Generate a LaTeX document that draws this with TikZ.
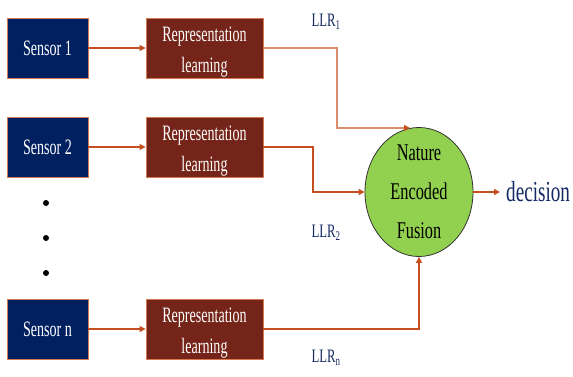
\documentclass[tikz,border=0pt]{standalone}
\usepackage{fontspec}
\setmainfont{Liberation Serif}
\usetikzlibrary{arrows.meta,shapes.geometric,calc}

\definecolor{sensorblue}{RGB}{0,32,96}
\definecolor{repred}{RGB}{116,36,24}
\definecolor{edgeorange}{RGB}{214,120,80}
\definecolor{flowline}{RGB}{197,80,30}
\definecolor{flowlight}{RGB}{222,140,110}
\definecolor{fusiongreen}{RGB}{146,208,80}
\definecolor{labelblue}{RGB}{20,40,100}

% horizontally condensed text
\newcommand{\cond}[2][0.64]{\scalebox{#1}[1]{#2}}

\tikzset{
  sensorbox/.style={draw=edgeorange, line width=0.8pt, fill=sensorblue,
    minimum width=81pt, minimum height=60pt, inner sep=0pt, text=white,
    font=\fontsize{22}{26}\selectfont},
  repbox/.style={draw=edgeorange, line width=0.8pt, fill=repred,
    minimum width=117pt, minimum height=60pt, inner sep=0pt},
  reptext/.style={text=white, inner sep=0pt,
    font=\fontsize{22}{33}\selectfont, align=center},
  flow/.style={draw=flowline, line width=1.3pt,
    -{Triangle[length=6pt,width=6pt]}},
  flowpale/.style={draw=flowlight, line width=1.3pt,
    -{Triangle[length=6pt,width=6pt,color=flowline]}},
  fusion/.style={ellipse, draw=black!80, line width=0.8pt, fill=fusiongreen,
    minimum width=108pt, minimum height=129pt, inner sep=0pt},
  llr/.style={text=labelblue, inner sep=0pt, font=\fontsize{19}{22}\selectfont},
  dot/.style={circle, fill=black, minimum size=6pt, inner sep=0pt}
}

\begin{document}
\begin{tikzpicture}[x=1pt,y=-1pt]
  \useasboundingbox (0,0) rectangle (573,377);

  % sensors
  \node[sensorbox] (s1) at (47.5,48) {\cond{Sensor 1}};
  \node[sensorbox] (s2) at (47.5,147) {\cond{Sensor 2}};
  \node[sensorbox] (sn) at (47.5,329) {\cond{Sensor n}};

  % ellipsis between sensors
  \node[dot] (d1) at (46,203) {};
  \node[dot] (d2) at (46,238) {};
  \node[dot] (d3) at (46,273) {};

  % representation learning blocks
  \node[repbox] (r1) at (204.5,48) {};
  \node[repbox] (r2) at (204.5,147) {};
  \node[repbox] (rn) at (204.5,329) {};
  \foreach \r in {r1,r2,rn}
    \node[reptext] at ($(\r)+(0,4)$)
      {\cond{Representation}\\[-2pt]\cond{learning}};

  % fusion node
  \node[fusion] (c) at (419,192) {};
  \node[inner sep=0pt, align=center, font=\fontsize{24}{39}\selectfont]
    at (c) {\cond[0.68]{Nature}\\\cond[0.68]{Encoded}\\\cond[0.68]{Fusion}};

  % decision output
  \node[anchor=west, text=labelblue, inner sep=0pt,
    font=\fontsize{29}{32}\selectfont] (dec) at (506,192) {\cond[0.66]{decision}};

  % sensor to representation
  \draw[flow] (s1) -- (r1);
  \draw[flow] (s2) -- (r2);
  \draw[flow] (sn) -- (rn);

  % representations to fusion
  \coordinate (k1) at (337,48);
  \coordinate (k2) at (313,147);
  \draw[flowpale] (r1.east) -- (k1) |- (c.98);
  \draw[flow] (r2.east) -- (k2) |- (c.west);
  \draw[flow] (rn.east) -| (c.south);

  % fusion to decision
  \draw[flow] (c.east) -- ($(dec.west)+(-6,0)$);

  % log-likelihood ratio labels
  \node[llr] (l1) at (326,22) {\cond[0.67]{LLR\textsubscript{1}}};
  \node[llr] (l2) at (326,233) {\cond[0.67]{LLR\textsubscript{2}}};
  \node[llr] (ln) at (326,358) {\cond[0.67]{LLR\textsubscript{n}}};
\end{tikzpicture}
\end{document}
